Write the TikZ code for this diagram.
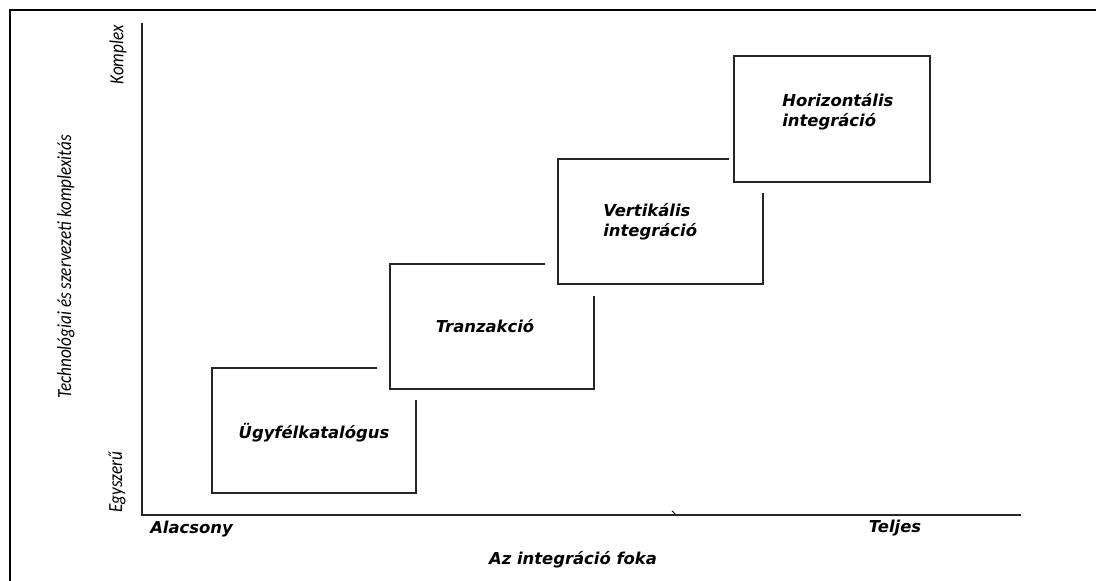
\documentclass[tikz,border=0pt]{standalone}
\usepackage{fontspec}
\setmainfont{DejaVu Sans}
\newfontfamily\axisfont{Carlito}
\newcommand{\narrowtext}[1]{\scalebox{0.86}[1]{#1}}

\tikzset{
  boxline/.style={line width=1.5pt, black!85},
  boxtext/.style={font=\bfseries\itshape\fontsize{12.3}{15}\selectfont, align=left, inner sep=0pt},
  axislabel/.style={font=\axisfont\itshape\fontsize{15}{17}\selectfont, rotate=90, inner sep=0pt}
}

\begin{document}
\begin{tikzpicture}[x=0.75pt,y=-0.75pt]
			\useasboundingbox (0,0) rectangle (1096,581);
			%%%%% FRAME %%%%%
			\draw[line width=2pt] (10,581) -- (10,10) -- (1096,10);
			
			%%%%% AXES %%%%%
			\draw[line width=1.5pt, black!85] (142,23) -- (142,515) -- (1021,515);
			\draw[line width=0.8pt] (672,511) -- (675,514);
			
			%%%%% STEPS %%%%%
			\draw[boxline] (377,368) -- (212,368) -- (212,493) -- (416,493) -- (416,400);
			\draw[boxline] (545,264) -- (390,264) -- (390,389) -- (594,389) -- (594,296);
			\draw[boxline] (729,159) -- (558,159) -- (558,284) -- (763,284) -- (763,193);
			\draw[boxline] (734,56) rectangle (930,182);
			
			\node[boxtext] (katalogus) at (314,433) {Ügyfélkatalógus};
			\node[boxtext] (tranzakcio) at (485,326) {Tranzakció};
			\node[boxtext, anchor=west] (vertikalis) at (603,222) {Vertikális\\integráció};
			\node[boxtext, anchor=west] (horizontalis) at (782,112) {Horizontális\\integráció};
			
			%%%%% LABELS %%%%%
			\node[axislabel] (komplex) at (118,55) {\narrowtext{Komplex}};
			\node[axislabel] (egyszeru) at (117,482) {\narrowtext{Egyszerű}};
			\node[axislabel] (ytitle) at (66,267) {\narrowtext{Technológiai és szervezeti komplexitás}};
			
			\node[boxtext, anchor=west] (alacsony) at (150,529) {Alacsony};
			\node[boxtext] (teljes) at (895,528) {Teljes};
			\node[boxtext] (xtitle) at (573,560) {Az integráció foka};
\end{tikzpicture}
\end{document}
